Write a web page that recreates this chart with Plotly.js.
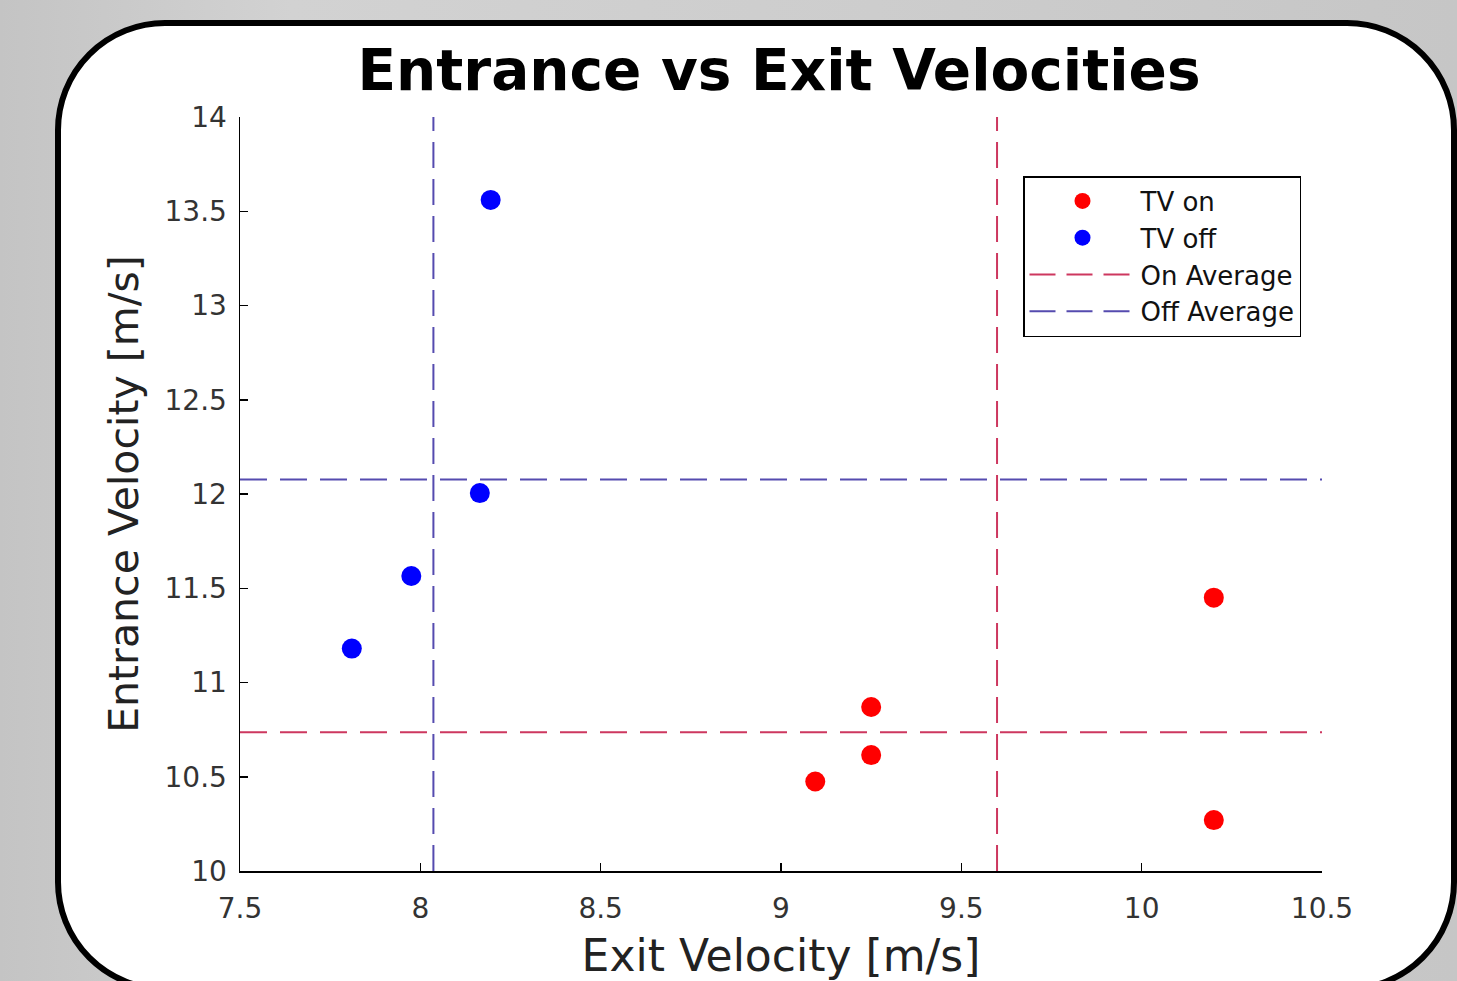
<!DOCTYPE html>
<html>
<head>
<meta charset="utf-8">
<script src="https://cdn.plot.ly/plotly-3.0.1.min.js"></script>
<style>
  html, body { margin: 0; padding: 0; width: 1457px; height: 981px; overflow: hidden; }
  body { background: linear-gradient(90deg, #c4c4c4 0%, #d2d2d2 20%, #cdcdcd 60%, #c6c6c6 100%); position: relative; }
  #card { position: absolute; left: 55px; top: 20px; width: 1390px; height: 960px; background: #ffffff;
          border: 6px solid #000; border-radius: 110px; }
  #chart { position: absolute; left: 0; top: 0; width: 1457px; height: 981px; }
</style>
</head>
<body>
<div id="card"></div>
<div id="chart"></div>
<script>
// TV on (red)
const onExit = [10.20, 9.25, 9.25, 9.095, 10.20];
const onEntrance = [11.45, 10.87, 10.615, 10.475, 10.27];
// TV off (blue)
const offExit = [8.195, 8.165, 7.975, 7.81];
const offEntrance = [13.56, 12.005, 11.565, 11.18];

const xTicks = [7.5, 8, 8.5, 9, 9.5, 10, 10.5];
const xTickText = ['7.5', '8', '8.5', '9', '9.5', '10', '10.5'];
const yTicks = [10, 10.5, 11, 11.5, 12, 12.5, 13, 13.5, 14];
const yTickText = ['10', '10.5', '11', '11.5', '12', '12.5', '13', '13.5', '14'];
const xRange = [7.5, 10.5];
const yRange = [10, 14];

const mean = a => a.reduce((s, v) => s + v, 0) / a.length;
const onAvgX = mean(onExit), onAvgY = mean(onEntrance);
const offAvgX = mean(offExit), offAvgY = mean(offEntrance);

const redLine = 'rgb(205,55,95)';
const blueLine = 'rgb(85,75,175)';
const hDash = '27px,13px';
const vDash = '26px,11px';

const data = [
  // average lines: vertical part carries the legend entry, horizontal part shares its group
  { x: [onAvgX, onAvgX], y: yRange, mode: 'lines', name: 'On Average', legendgroup: 'on', legendrank: 3,
    line: { color: redLine, width: 2, dash: vDash } },
  { x: xRange, y: [onAvgY, onAvgY], mode: 'lines', name: 'On Average', legendgroup: 'on', showlegend: false,
    line: { color: redLine, width: 2, dash: hDash } },
  { x: [offAvgX, offAvgX], y: yRange, mode: 'lines', name: 'Off Average', legendgroup: 'off', legendrank: 4,
    line: { color: blueLine, width: 2, dash: vDash } },
  { x: xRange, y: [offAvgY, offAvgY], mode: 'lines', name: 'Off Average', legendgroup: 'off', showlegend: false,
    line: { color: blueLine, width: 2, dash: hDash } },
  { x: onExit, y: onEntrance, mode: 'markers', name: 'TV on', legendrank: 1,
    marker: { color: '#ff0000', size: 20 } },
  { x: offExit, y: offEntrance, mode: 'markers', name: 'TV off', legendrank: 2,
    marker: { color: '#0000ff', size: 20 } }
];

const font = '"DejaVu Sans", Arial, sans-serif';
const layout = {
  width: 1457, height: 981,
  paper_bgcolor: 'rgba(0,0,0,0)', plot_bgcolor: 'rgba(0,0,0,0)',
  margin: { l: 240, r: 135, t: 117, b: 110 },
  font: { family: font, color: '#262626' },
  title: { text: '<b>Entrance vs Exit Velocities</b>', xref: 'container', yref: 'container',
           x: 779 / 1457, y: 1 - 70 / 981, xanchor: 'center', yanchor: 'middle',
           font: { family: font, size: 56.5, color: '#000' } },
  xaxis: { range: xRange, tickvals: xTicks, ticktext: xTickText, ticks: 'inside', ticklen: 8,
           tickcolor: '#000', tickwidth: 1.5, showline: true, linecolor: '#000', linewidth: 1.5,
           showgrid: false, zeroline: false, mirror: false, ticklabelstandoff: 12,
           tickfont: { size: 28, color: '#333' },
           title: { text: 'Exit Velocity [m/s]', standoff: 20, font: { size: 44, color: '#222' } } },
  yaxis: { range: yRange, tickvals: yTicks, ticktext: yTickText, ticks: 'inside', ticklen: 8,
           tickcolor: '#000', tickwidth: 1.5, showline: true, linecolor: '#000', linewidth: 1.5,
           showgrid: false, zeroline: false, mirror: false, ticklabelstandoff: 6,
           tickfont: { size: 28, color: '#333' },
           title: { text: 'Entrance Velocity [m/s]', standoff: 13, font: { size: 41, color: '#222' } } },
  legend: { x: (1023 - 240) / (1322 - 240), y: 1 - (176 - 117) / (871 - 117), xanchor: 'left', yanchor: 'top',
            bgcolor: '#ffffff', bordercolor: '#000', borderwidth: 1.5,
            font: { size: 26, color: '#111' }, itemwidth: 106, tracegroupgap: 0 },
  showlegend: true
};

Plotly.newPlot('chart', data, layout, { displayModeBar: false, staticPlot: true });
</script>
</body>
</html>
